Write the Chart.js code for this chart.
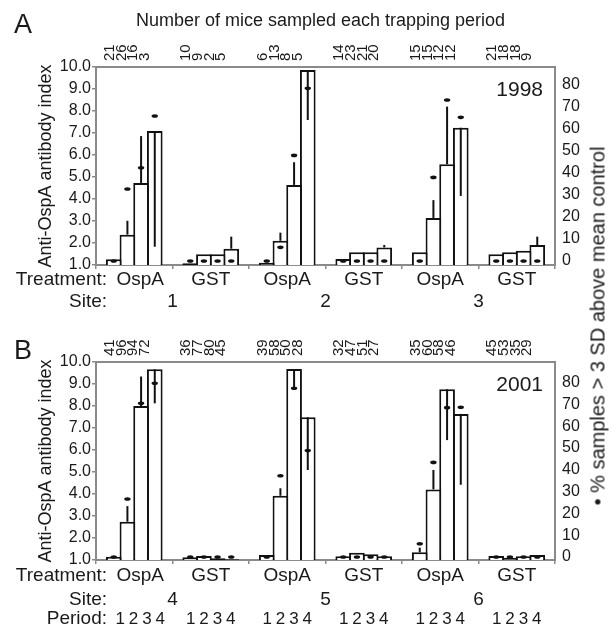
<!DOCTYPE html>
<html>
<head>
<meta charset="utf-8">
<script src="https://cdn.jsdelivr.net/npm/chart.js@4.4.0/dist/chart.umd.min.js"></script>
<style>
  html, body { margin: 0; padding: 0; background: #fff; }
  #wrap { position: relative; width: 613px; height: 627px; overflow: hidden; }
  canvas { position: absolute; left: 0; }
  #chartA { top: 0; }
  #chartB { top: 313px; }
  #rightTitle {
    position: absolute; left: 598px; top: 326px;
    transform: translate(-50%, -50%) rotate(-90deg);
    font: 20px 'Liberation Sans', Arial, sans-serif;
    color: #1a1a1a; white-space: nowrap;
  }
</style>
</head>
<body>
<div id="wrap">
  <canvas id="chartA" width="613" height="313"></canvas>
  <canvas id="chartB" width="613" height="314"></canvas>
  <div id="rightTitle">• % samples &gt; 3 SD above mean control</div>
</div>
<script>
// Categories
const GROUPS = ['OspA', 'GST', 'OspA', 'GST', 'OspA', 'GST'];
const PERIODS = ['1', '2', '3', '4'];
const SITES_A = ['1', '2', '3'];
const SITES_B = ['4', '5', '6'];

// Tick labels
const INDEX_TICKS = [1, 2, 3, 4, 5, 6, 7, 8, 9, 10];
const PCT_TICKS = [0, 10, 20, 30, 40, 50, 60, 70, 80];

// 1998 — one row per trapping period, columns follow GROUPS
const A_INDEX = [
    [1.26, 1.08, 1.10, 1.27, 1.58, 1.49],
    [2.38, 1.49, 2.10, 1.58, 3.14, 1.58],
    [4.73, 1.49, 4.64, 1.58, 5.58, 1.65],
    [7.09, 1.74, 9.86, 1.80, 7.24, 1.91],
];
// far end of the error line (null = none drawn)
const A_ERR = [
    [null, null, null, null, null, null],
    [3.01, null, 2.47, null, 3.95, null],
    [6.86, null, 5.67, null, 8.20, null],
    [1.83, 2.29, 7.59, 1.91, 4.14, 2.29],
];
// % samples > 3 SD above mean control (dots)
const A_PCT = [
    [0, 0, 0, 0, 0, 0],
    [32.7, 0, 6.2, 0, 38.0, 0],
    [42.4, 0, 48.0, 0, 73.2, 0],
    [65.9, 0, 78.5, 0, 65.3, 0],
];
// number of mice sampled
const A_N = [
    [21, 10, 6, 14, 15, 21],
    [26, 9, 13, 23, 15, 18],
    [16, 2, 8, 21, 12, 18],
    [3, 5, 5, 20, 12, 9],
];

// 2001
const B_INDEX = [
    [1.15, 1.12, 1.23, 1.17, 1.35, 1.18],
    [2.74, 1.18, 3.92, 1.33, 4.21, 1.10],
    [8.00, 1.08, 9.68, 1.26, 8.76, 1.17],
    [9.67, 1.03, 7.49, 1.17, 7.64, 1.23],
];
const B_ERR = [
    [null, null, null, null, 1.56, null],
    [3.45, null, 4.26, null, 5.09, null],
    [9.34, null, 8.76, null, 6.45, null],
    [8.12, null, 5.09, null, 4.42, null],
];
const B_PCT = [
    [0, 0, 0, 0, 6.1, 0],
    [26.6, 0, 37.3, 0, 43.4, 0],
    [70.5, 0, 77.4, 0, 68.5, 0],
    [79.7, 0, 48.8, 0, 68.7, 0],
];
const B_N = [
    [41, 36, 39, 32, 35, 45],
    [96, 77, 58, 47, 60, 53],
    [94, 80, 50, 51, 58, 35],
    [72, 45, 28, 27, 46, 29],
];

const FONT = "'Liberation Sans', Arial, sans-serif";
const INK = '#1a1a1a';
const BAR_INK = '#111111';
const FRAME = '#8a8a8a';
const LABEL_X = 107;      // right edge of the row captions

Chart.defaults.font.family = FONT;
Chart.defaults.color = INK;

function text(ctx, str, x, y, size, align, baseline) {
    ctx.font = size + 'px ' + FONT;
    ctx.textAlign = align || 'center';
    ctx.textBaseline = baseline || 'middle';
    ctx.fillText(str, x, y);
}

/**
 * Frame, error lines, % dots and all the caption text for one panel.
 */
function panelPlugin(p) {
    return {
        id: 'panel' + p.letter,
        beforeDatasetsDraw(chart) {
            const { ctx, chartArea: a } = chart;
            ctx.save();
            ctx.strokeStyle = FRAME;
            ctx.lineWidth = 2;
            ctx.strokeRect(a.left, a.top, a.right - a.left, a.bottom - a.top);
            ctx.restore();
        },
        afterDatasetsDraw(chart) {
            const { ctx, scales: { y, y2 } } = chart;
            ctx.save();
            ctx.strokeStyle = BAR_INK;
            ctx.fillStyle = BAR_INK;
            ctx.lineWidth = 2;
            PERIODS.forEach((_, i) => {
                chart.getDatasetMeta(i).data.forEach((bar, j) => {
                    const end = p.err[i][j];
                    if (end !== null) {
                        ctx.beginPath();
                        ctx.moveTo(bar.x, bar.y);
                        ctx.lineTo(bar.x, y.getPixelForValue(end));
                        ctx.stroke();
                    }
                    const pct = p.pct[i][j];
                    if (pct !== null) {
                        ctx.beginPath();
                        ctx.ellipse(bar.x, y2.getPixelForValue(pct), 3.2, 1.8, 0, 0, Math.PI * 2);
                        ctx.fill();
                    }
                });
            });
            ctx.restore();
        },
        afterDraw(chart) {
            const { ctx, chartArea: a, scales: { x } } = chart;
            const gx = j => x.getPixelForValue(j) + (j === 0 ? 6 : 0);
            ctx.save();
            ctx.fillStyle = INK;

            text(ctx, p.letter, 23, p.letterY, 27);
            text(ctx, p.year, a.right - 12, a.top + 28.5, 21, 'right', 'alphabetic');
            if (p.title) text(ctx, p.title, 320.5, 21, 18);

            // sample sizes, rotated, above each bar
            PERIODS.forEach((_, i) => {
                GROUPS.forEach((g, j) => {
                    const cx = x.getPixelForValue(j) + (i - 1.5) * 11.7 - 7;
                    ctx.save();
                    ctx.translate(cx, a.top - 6);
                    ctx.rotate(-Math.PI / 2);
                    text(ctx, String(p.n[i][j]), 0, 0, 15, 'left', 'middle');
                    ctx.restore();
                });
            });

            const rowT = a.bottom + p.rows[0];
            text(ctx, 'Treatment:', LABEL_X, rowT, 19, 'right');
            GROUPS.forEach((g, j) => text(ctx, g, gx(j), rowT, 19));

            const rowS = a.bottom + p.rows[1];
            text(ctx, 'Site:', LABEL_X, rowS, 19, 'right');
            p.sites.forEach((s, k) => {
                const mid = (x.getPixelForValue(2 * k) + x.getPixelForValue(2 * k + 1)) / 2;
                text(ctx, s, mid, rowS, 19);
            });

            if (p.rows[2]) {
                const rowP = a.bottom + p.rows[2];
                text(ctx, 'Period:', LABEL_X, rowP, 19, 'right');
                GROUPS.forEach((g, j) => {
                    PERIODS.forEach((per, i) => {
                        text(ctx, per, gx(j) + (i - 1.5) * 13.3, rowP, 17);
                    });
                });
            }
            ctx.restore();
        }
    };
}

function makePanel(canvasId, p) {
    const canvas = document.getElementById(canvasId);
    return new Chart(canvas.getContext('2d'), {
        type: 'bar',
        data: {
            labels: GROUPS,
            datasets: PERIODS.map((per, i) => ({
                label: 'Period ' + per,
                data: p.index[i],
                backgroundColor: '#ffffff',
                borderColor: BAR_INK,
                borderWidth: 2,
                borderSkipped: 'start',
                categoryPercentage: 0.715,
                barPercentage: 1.146,
            }))
        },
        options: {
            responsive: false,
            animation: false,
            layout: { padding: { top: p.top, left: 0, right: 0, bottom: 0 } },
            plugins: {
                legend: { display: false },
                tooltip: { enabled: false },
            },
            scales: {
                x: {
                    afterFit: s => { s.height = p.xHeight; },
                    border: { display: false },
                    grid: { offset: true, drawOnChartArea: false, tickLength: 4, color: FRAME, lineWidth: 1.5 },
                    ticks: { display: false },
                },
                y: {
                    position: 'left',
                    min: 1,
                    max: 10,
                    afterFit: s => { s.width = 96; },
                    afterBuildTicks: s => { s.ticks = INDEX_TICKS.map(v => ({ value: v })); },
                    border: { display: false },
                    grid: { drawOnChartArea: false, tickLength: 4, color: FRAME, lineWidth: 1.5 },
                    ticks: {
                        autoSkip: false,
                        padding: 1,
                        font: { size: 16 },
                        color: INK,
                        callback: v => v.toFixed(1),
                    },
                    title: {
                        display: true,
                        text: 'Anti-OspA antibody index',
                        font: { size: 18 },
                        color: INK,
                        padding: { top: 35, bottom: 0 },
                    }
                },
                y2: {
                    position: 'right',
                    min: p.pctRange[0],
                    max: p.pctRange[1],
                    afterFit: s => { s.width = 58; },
                    afterBuildTicks: s => { s.ticks = PCT_TICKS.map(v => ({ value: v })); },
                    border: { display: false },
                    grid: { display: false, drawTicks: false },
                    ticks: { autoSkip: false, padding: 7, font: { size: 16 }, color: INK },
                }
            }
        },
        plugins: [panelPlugin(p)]
    });
}

makePanel('chartA', {
    letter: 'A', letterY: 26, year: '1998',
    title: 'Number of mice sampled each trapping period',
    index: A_INDEX, err: A_ERR, pct: A_PCT, n: A_N, sites: SITES_A,
    top: 67, xHeight: 48, pctRange: [-1.82, 88.2], rows: [14.5, 37, 0],
});

makePanel('chartB', {
    letter: 'B', letterY: 39, year: '2001',
    title: null,
    index: B_INDEX, err: B_ERR, pct: B_PCT, n: B_N, sites: SITES_B,
    top: 49, xHeight: 67, pctRange: [-1.38, 89.45], rows: [16, 40, 59],
});
</script>
</body>
</html>
